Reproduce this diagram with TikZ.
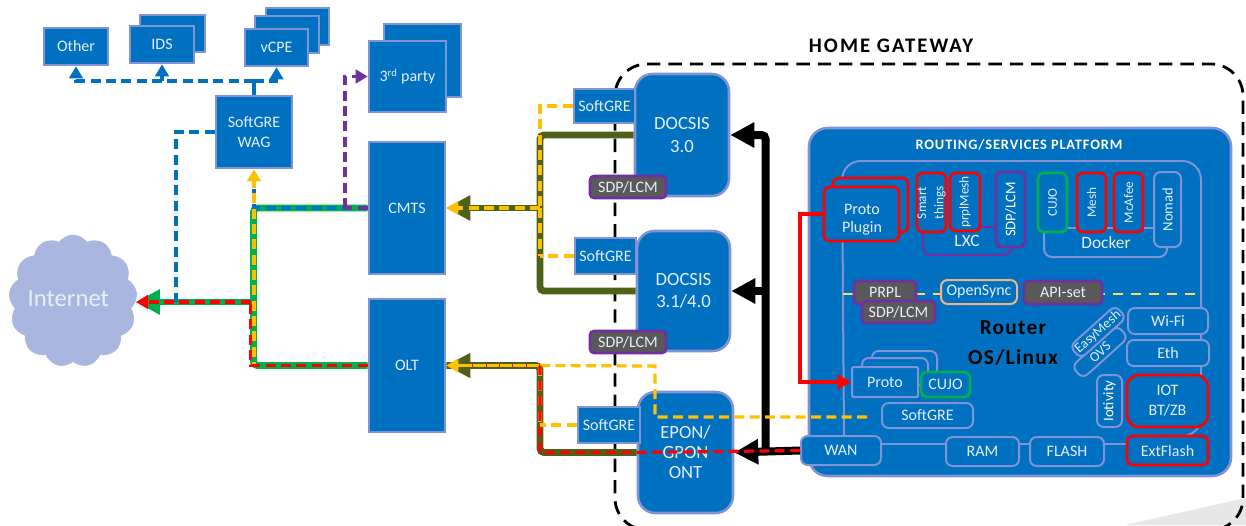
\documentclass[tikz,border=0pt]{standalone}
\usepackage{fontspec}
\setmainfont{Carlito}
\newfontfamily\spacedbold[LetterSpace=6,Ligatures=NoCommon]{Carlito}
\newfontfamily\widebold[LetterSpace=10,Ligatures=NoCommon]{Carlito}
\usetikzlibrary{arrows.meta,shapes.symbols}
\definecolor{bluefill}{HTML}{0070C0}
\definecolor{edgeblue}{HTML}{8093D4}
\definecolor{cloudblue}{HTML}{A9B7E0}
\definecolor{txt}{HTML}{E6EEF8}
\definecolor{lineolive}{HTML}{4F6118}
\definecolor{linegreen}{HTML}{00B050}
\definecolor{lineyellow}{HTML}{FFC000}
\definecolor{softyellow}{HTML}{FFD966}
\definecolor{linepurple}{HTML}{7030A0}
\definecolor{darkbox}{HTML}{595959}
\definecolor{softorange}{HTML}{F4B183}
\definecolor{wedge}{HTML}{E7E7E7}
\tikzset{
  boxnode/.style={draw=edgeblue,fill=bluefill,line width=1.9pt,text=txt,align=center,inner sep=0pt,font=\fontsize{12}{15}\selectfont},
  soft/.style={rounded corners=5pt,line width=1.5pt},
  big/.style={rounded corners=13pt,font=\fontsize{14}{17}\selectfont},
  redb/.style={draw=red,line width=2pt,rounded corners=4pt},
  greenb/.style={draw=linegreen,line width=2pt,rounded corners=4pt},
  purpb/.style={draw=linepurple,line width=2pt,rounded corners=4pt},
  grayb/.style={fill=darkbox,draw=linepurple,line width=2pt,rounded corners=3pt},
  small/.style={font=\fontsize{10}{13}\selectfont},
  olive/.style={draw=lineolive,line width=5.2pt,rounded corners=3pt},
  greenl/.style={draw=linegreen,line width=5.2pt,rounded corners=3pt},
  blackl/.style={draw=black,line width=6pt,rounded corners=3pt},
  dashy/.style={line width=2.4pt,dash pattern=on 7.5pt off 4pt},
  ylw/.style={dashy,draw=lineyellow},
  rdd/.style={dashy,draw=red},
  blu/.style={dashy,draw=bluefill},
  prp/.style={dashy,draw=linepurple},
  bighead/.style={-{Triangle[length=18pt,width=18pt]}},
  smallhead/.style={-{Triangle[length=9pt,width=10pt]}},
  lbl/.style={inner sep=0pt,align=center}
}
\newcommand{\bx}[7][]{%
  \pgfmathsetmacro\bxcx{(#3+#5)/2}\pgfmathsetmacro\bxcy{(#4+#6)/2}%
  \node[boxnode,minimum width={(#5-#3)*0.75pt},minimum height={(#6-#4)*0.75pt},#1] (#2) at (\bxcx,\bxcy) {#7};}
\newcommand{\vbx}[7][]{%
  \pgfmathsetmacro\bxcx{(#3+#5)/2}\pgfmathsetmacro\bxcy{(#4+#6)/2}%
  \node[boxnode,rotate=90,minimum width={(#6-#4)*0.75pt},minimum height={(#5-#3)*0.75pt},#1] (#2) at (\bxcx,\bxcy) {#7};}
\begin{document}
\begin{tikzpicture}[x=0.75pt,y=-0.75pt]
\clip (0,0) rectangle (1246,525);
\fill[white] (0,0) rectangle (1246,525);
% grey wedge and home gateway outline
\fill[wedge] (1125,525) -- (1246,498) -- (1246,525) -- cycle;
\draw[black,line width=2.1pt,dash pattern=on 10pt off 6pt,rounded corners=24pt] (615,64) rectangle (1243,530);
\node[lbl,font=\fontsize{15.5}{17}\widebold\bfseries] (hgw) at (891,46) {HOME GATEWAY};
% left side
\node[cloud,cloud puffs=13,cloud puff arc=110,cloud ignores aspect,fill=cloudblue,draw=cloudblue,text=txt,inner sep=0pt,
  minimum width=96pt,minimum height=99pt,font=\fontsize{18.5}{20}\selectfont] (internet) at (73,301) {\raisebox{3pt}{Internet}\hspace*{7pt}};
\bx{other}{44}{28}{108}{65}{Other}
\bx{idsb}{140}{15}{205}{52}{}
\bx{ids}{130}{26}{194}{63}{IDS}
\bx{vcpec}{266}{8}{329}{45}{}
\bx{vcpeb}{255}{16}{319}{53}{}
\bx{vcpe}{245}{29}{308}{66}{vCPE}
\bx{thirdb}{384}{24}{461}{97}{}
\bx{third}{369}{41}{446}{112}{3\textsuperscript{rd} party}
\bx{wag}{216}{96}{292}{168}{SoftGRE\\WAG}
\bx{cmts}{369}{142}{445}{274}{CMTS}
\bx{olt}{369}{299}{445}{432}{OLT}
% access devices
\bx[big]{docsisA}{635}{74}{729}{196}{DOCSIS\\3.0}
\bx[big]{docsisB}{637}{231}{730}{351}{DOCSIS\\3.1/4.0}
\bx[big,font=\fontsize{14}{15}\selectfont]{epon}{638}{392}{733}{513}{EPON/\\GPON\\ONT}
\bx{greA}{574}{89}{635}{123}{SoftGRE}
\bx{greB}{575}{238}{636}{274}{SoftGRE}
\bx{greC}{578}{407}{640}{443}{SoftGRE}
\bx[grayb]{sdpA}{590}{176}{666}{198}{SDP/LCM}
\bx[grayb]{sdpB}{590}{331}{666}{353}{SDP/LCM}
% routing platform
\bx[rounded corners=14pt]{platform}{809}{128}{1231}{476}{}
\node[lbl,text=white,font=\fontsize{10.8}{12}\spacedbold\bfseries] (ptitle) at (1019,145) {ROUTING/SERVICES PLATFORM};
\coordinate (inA) at (844,436);
\coordinate (inB) at (842,161);
\coordinate (inC) at (1201,161);
\coordinate (inD) at (1201,436);
\coordinate (inE) at (1190,436);
\draw[edgeblue,line width=1.5pt,rounded corners=14pt] (inA) -- (inB) -- (inC) -- (inD) -- (inE);
\coordinate (lxcA) at (923,230);
\coordinate (lxcB) at (923,255);
\coordinate (lxcC) at (1012,255);
\coordinate (lxcD) at (1012,245);
\draw[linepurple,line width=1.7pt,rounded corners=6pt] (lxcA) -- (lxcB) -- (lxcC) -- (lxcD);
\coordinate (dkA) at (1044,230);
\coordinate (dkB) at (1044,257);
\coordinate (dkC) at (1167,257);
\coordinate (dkD) at (1167,245);
\draw[edgeblue,line width=1.5pt,rounded corners=6pt] (dkA) -- (dkB) -- (dkC) -- (dkD);
\vbx[purpb,font=\fontsize{11}{13}\selectfont,text=white]{sdpV}{996}{172}{1025}{247}{SDP/LCM}
\vbx[soft,small,font=\fontsize{11}{13}\selectfont]{nomad}{1154}{172}{1181}{247}{Nomad}
\bx[redb]{plugb}{833}{178}{908}{232}{}
\bx[redb]{plug}{824}{187}{899}{241}{}
\node[lbl,text=txt,font=\fontsize{12}{13.5}\selectfont] (plugt) at (862,220) {Proto\\Plugin};
\vbx[redb,small,align=left]{smart}{917}{173}{946}{232}{Smart\\\hspace*{0pt}things}
\vbx[redb,small]{prpl}{950}{173}{980}{231}{prplMesh}
\vbx[greenb,small]{cujoA}{1038}{173}{1067}{232}{CUJO}
\vbx[redb,small]{mesh}{1077}{173}{1106}{232}{Mesh}
\vbx[redb,small]{mcafee}{1114}{173}{1143}{232}{McAfee}
\draw[linepurple,line width=1.7pt] (prpl.south |- 0,227) -- (sdpV.north |- 0,227);
\draw[edgeblue,line width=1.5pt] (cujoA.south |- 0,228) -- (mesh.north |- 0,228);
\draw[edgeblue,line width=1.5pt] (mesh.south |- 0,228) -- (mcafee.north |- 0,228);
\draw[edgeblue,line width=1.5pt] (mcafee.south |- 0,228) -- (nomad.north |- 0,228);
\node[lbl,text=txt,font=\fontsize{13}{15}\selectfont] (lxc) at (967,241) {LXC};
\node[lbl,text=txt,font=\fontsize{13}{15}\selectfont] (docker) at (1106,243) {Docker};
% API line
\coordinate (apiL) at (843,294);
\coordinate (apiR) at (1200,294);
\draw[softyellow,line width=2pt,dash pattern=on 7.5pt off 6pt] (apiL) -- (apiR);
\bx[grayb]{prplbox}{854}{281}{916}{304}{PRPL}
\bx[grayb]{sdpC}{862}{301}{935}{323}{SDP/LCM}
\bx[soft,draw=softorange]{opensync}{941}{280}{1017}{304}{OpenSync}
\bx[grayb]{apiset}{1024}{281}{1102}{304}{API-set}
\node[lbl,text=black,font=\fontsize{16}{22.5}\spacedbold\bfseries] (router) at (1013,343) {Router\\OS/Linux};
% interfaces
\node[boxnode,soft,rotate=42,minimum width=46pt,minimum height=12.4pt,font=\fontsize{10.5}{12}\selectfont] (ovs) at (1100,352) {OVS};
\node[boxnode,soft,rotate=42,minimum width=46pt,minimum height=12.4pt,font=\fontsize{10.5}{12}\selectfont] (easy) at (1098,332) {EasyMesh};
\bx[soft]{wifi}{1128}{308}{1208}{334}{Wi-Fi}
\bx[soft]{eth}{1127}{340}{1209}{366}{Eth}
\bx[redb,rounded corners=9pt]{iot}{1127}{375}{1208}{427}{IOT\\BT/ZB}
\vbx[soft,font=\fontsize{11}{13}\selectfont,text=white]{iotiv}{1097}{375}{1122}{427}{Iotivity}
\bx[soft]{protoc}{872}{351}{937}{376}{}
\bx[soft]{protob}{862}{358}{928}{385}{}
\bx[soft,rounded corners=1pt]{proto}{852}{367}{918}{397}{\raisebox{-3pt}{Proto}}
\bx[greenb]{cujoB}{921}{372}{970}{397}{CUJO}
\bx[soft]{greD}{882}{403}{973}{428}{SoftGRE}
\coordinate (busL) at (881,444);
\draw[edgeblue,line width=1.5pt] (busL) -- (1127,444);
\bx[soft]{wan}{801}{436}{881}{465}{WAN}
\bx[soft]{ram}{946}{437}{1019}{466}{RAM}
\bx[soft]{flash}{1030}{437}{1104}{466}{FLASH}
\bx[redb]{extf}{1127}{436}{1208}{465}{ExtFlash}
% red link inside the gateway
\coordinate (rv) at (800,300);
\draw[red,line width=2.3pt,-{Triangle[length=10pt,width=11pt]}] (plug.west) -| (rv) |- (proto.west);
% green trunk
\coordinate (gj) at (253.5,302);
\draw[greenl] (cmts.west) -| (gj) |- (olt.west);
\draw[draw=linegreen,line width=5.2pt,bighead] (gj) -- (internet.east |- gj);
% olive trunks
\coordinate (oj) at (540,208);
\coordinate (ok) at (540,400);
\draw[olive] (docsisA.west) -| (oj) |- (docsisB.west);
\draw[draw=lineolive,line width=5.2pt,bighead] (oj) -- (cmts.east);
\draw[olive] (epon.west) -| (ok) |- (olt.east);
\draw[draw=lineolive,line width=3.5pt,bighead] (ok |- olt.east) -- (olt.east);
% black
\coordinate (bk) at (765.5,300);
\draw[blackl,bighead] (wan.west) -- (epon.east);
\draw[blackl,bighead] (bk |- wan.west) -- (bk |- docsisA.east) -- (docsisA.east);
\draw[draw=black,line width=6pt,bighead] (bk |- docsisB.east) -- (docsisB.east);
% dashed overlays: yellow and red on olive
\draw[ylw] (greA.west) -| (oj);
\draw[ylw] (greB.west) -- (oj |- greB.west);
\draw[ylw,smallhead] (oj) -- (cmts.east);
\draw[ylw] (oj) -- (oj |- greB.west);
\coordinate (yc) at (655,366);
\coordinate (yd) at (655,417);
\coordinate (ye) at (868,417);
\draw[ylw] (ok |- olt.east) -- (yc) -- (yd) -- (ye);
\draw[lineyellow,line width=2.8pt,smallhead] (ok |- olt.east) -- (olt.east);
\draw[ylw] (greC.west) -- (ok |- greC.west);
\draw[ylw] (ok |- olt.east) -- (ok |- greC.west);
\draw[rdd] (wan.west) -- (epon.west) -| (ok) -- (ok |- olt.east);
\draw[red,line width=2.8pt,dash pattern=on 0.8pt off 9.2pt,shorten >=12pt] (ok |- olt.east) -- (olt.east);
% trunk overlays on the Internet side
\coordinate (rx) at (250.5,302);
\draw[blu] (cmts.west) -| (wag.south);
\coordinate (pj) at (345,208);
\draw[prp] (cmts.west) -- (pj);
\draw[prp,smallhead] (pj) |- (third.west);
\draw[ylw,smallhead] (olt.west) -| (wag.south);
\draw[rdd] (olt.west) -| (rx);
\coordinate (bj) at (176,302);
\draw[blu] (wag.west) -| (bj);
\draw[rdd,smallhead] (rx) -- (internet.east |- rx);
\coordinate (wj) at (254,81);
\draw[bluefill,line width=2.4pt] (wag.north) -- (wj);
\draw[blu,smallhead] (wj) -| (other.south);
\draw[blu,smallhead] (wj) -| (ids.south);
\draw[blu,smallhead] (wj) -| (vcpe.south);
\end{tikzpicture}
\end{document}
